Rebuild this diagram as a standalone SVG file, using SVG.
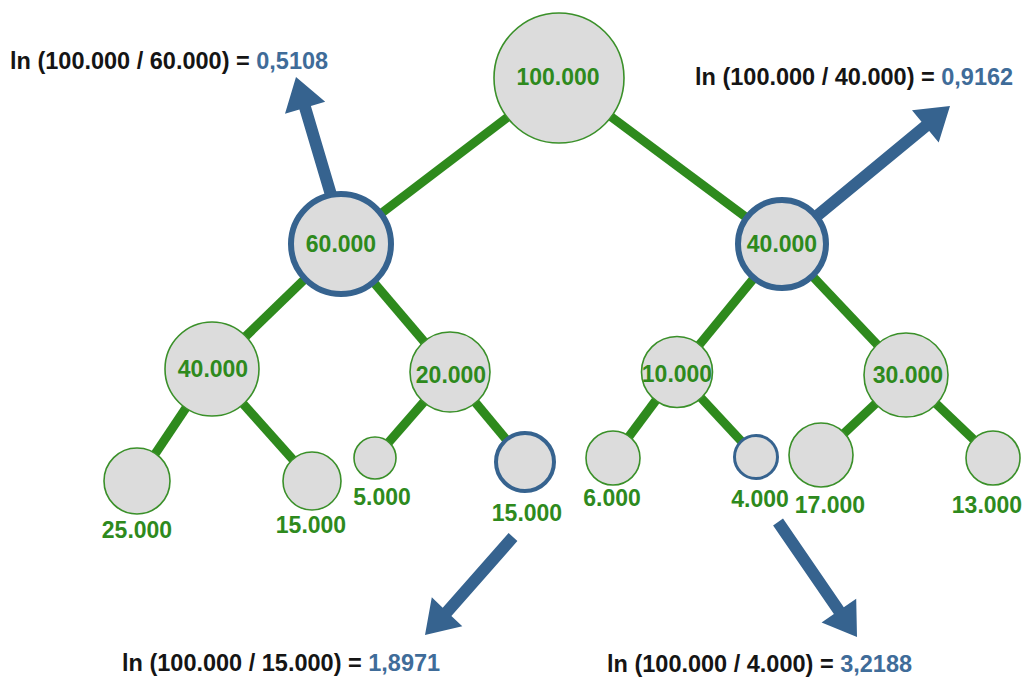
<svg xmlns="http://www.w3.org/2000/svg" width="1023" height="677" viewBox="0 0 1023 677">
<style>
.edge{stroke:#2e8a1d;stroke-width:9;fill:none}
.n{fill:#dcdcdc;stroke:#3a9029;stroke-width:1.6}
.b{fill:#dcdcdc;stroke:#36638f}
.arr{fill:#36638f}
text{font-family:"Liberation Sans",Arial,sans-serif;font-weight:bold}
.lbl{fill:#2e8a1d;font-size:23px;text-anchor:middle}
.f{fill:#151515;font-size:23.5px}
.v{fill:#3f6c99}
</style>
<rect width="1023" height="677" fill="#ffffff"/>
<g id="connectors">
<line class="edge" x1="559" y1="78" x2="341" y2="244"/>
<line class="edge" x1="559" y1="78" x2="782" y2="244"/>
<line class="edge" x1="341" y1="244" x2="212" y2="369"/>
<line class="edge" x1="341" y1="244" x2="450" y2="372"/>
<line class="edge" x1="782" y1="244" x2="677" y2="372"/>
<line class="edge" x1="782" y1="244" x2="906" y2="375"/>
<line class="edge" x1="212" y1="369" x2="137" y2="481"/>
<line class="edge" x1="212" y1="369" x2="312" y2="481"/>
<line class="edge" x1="450" y1="372" x2="375" y2="458"/>
<line class="edge" x1="450" y1="372" x2="525" y2="462"/>
<line class="edge" x1="677" y1="372" x2="613" y2="458"/>
<line class="edge" x1="677" y1="372" x2="756" y2="457"/>
<line class="edge" x1="906" y1="375" x2="821" y2="455"/>
<line class="edge" x1="906" y1="375" x2="993" y2="458"/>
<polygon class="arr" points="336.8,193.3 310.9,106.0 325.2,101.7 296,77 285.0,113.7 299.4,109.4 325.3,196.7"/>
<polygon class="arr" points="821.8,219.6 929.2,131.0 938.7,142.6 950,106 912.0,110.2 921.5,121.8 814.2,210.4"/>
<polygon class="arr" points="508.6,532.9 442.7,607.7 431.8,597.3 425,635 462.3,626.2 451.4,615.9 517.4,541.1"/>
<polygon class="arr" points="773.1,525.4 833.9,614.0 821.6,622.5 857,637 856.2,598.7 843.8,607.2 783.0,518.6"/>
</g>
<g id="n100000"><circle class="n" cx="559" cy="78" r="65"/><text class="lbl" x="558" y="85">100.000</text></g>
<g id="n60000"><circle class="b" cx="341" cy="244" r="50" stroke-width="6"/><text class="lbl" x="341" y="252">60.000</text></g>
<g id="n40000r"><circle class="b" cx="782" cy="244" r="44" stroke-width="6"/><text class="lbl" x="782" y="252">40.000</text></g>
<g id="n40000l"><circle class="n" cx="212" cy="369" r="47"/><text class="lbl" x="213" y="377">40.000</text></g>
<g id="n20000"><circle class="n" cx="450" cy="372" r="40"/><text class="lbl" x="451" y="383">20.000</text></g>
<g id="n10000"><circle class="n" cx="677" cy="372" r="35.5"/><text class="lbl" x="677" y="382">10.000</text></g>
<g id="n30000"><circle class="n" cx="906" cy="375" r="42"/><text class="lbl" x="908" y="383">30.000</text></g>
<g id="n25000"><circle class="n" cx="137" cy="481" r="33"/><text class="lbl" x="137" y="538">25.000</text></g>
<g id="n15000l"><circle class="n" cx="312" cy="481" r="29"/><text class="lbl" x="311" y="533">15.000</text></g>
<g id="n5000"><circle class="n" cx="375" cy="458" r="21"/><text class="lbl" x="382" y="505">5.000</text></g>
<g id="n15000b"><circle class="b" cx="525" cy="462" r="29" stroke-width="4"/><text class="lbl" x="527" y="521">15.000</text></g>
<g id="n6000"><circle class="n" cx="613" cy="458" r="27"/><text class="lbl" x="612" y="506">6.000</text></g>
<g id="n4000"><circle class="b" cx="756" cy="457" r="21.5" stroke-width="3"/><text class="lbl" x="760" y="507">4.000</text></g>
<g id="n17000"><circle class="n" cx="821" cy="455" r="32"/><text class="lbl" x="830" y="513">17.000</text></g>
<g id="n13000"><circle class="n" cx="993" cy="458" r="27"/><text class="lbl" x="987" y="513">13.000</text></g>
<g id="formulas">
<text class="f" x="10" y="69">ln (100.000 / 60.000) = <tspan class="v">0,5108</tspan></text>
<text class="f" x="695" y="85">ln (100.000 / 40.000) = <tspan class="v">0,9162</tspan></text>
<text class="f" x="122" y="671">ln (100.000 / 15.000) = <tspan class="v">1,8971</tspan></text>
<text class="f" x="607" y="672">ln (100.000 / 4.000) = <tspan class="v">3,2188</tspan></text>
</g>
</svg>
